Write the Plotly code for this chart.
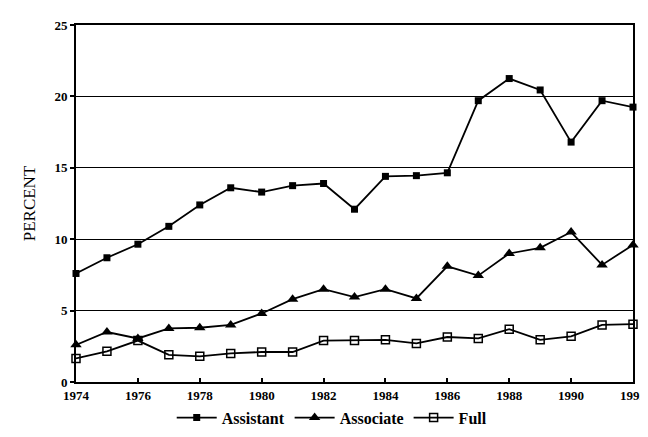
import plotly.graph_objects as go

years = list(range(1974, 1993))
assistant = [7.6, 8.7, 9.65, 10.9, 12.4, 13.6, 13.3, 13.75, 13.9, 12.1, 14.4, 14.45,
             14.65, 19.7, 21.25, 20.45, 16.8, 19.7, 19.25]
associate = [2.6, 3.5, 3.05, 3.75, 3.8, 4.0, 4.8, 5.8, 6.5, 5.95, 6.5, 5.85,
             8.1, 7.45, 9.0, 9.4, 10.5, 8.2, 9.6]
full = [1.65, 2.15, 2.9, 1.9, 1.8, 2.0, 2.1, 2.1, 2.9, 2.9, 2.95, 2.7,
        3.15, 3.05, 3.7, 2.95, 3.2, 4.0, 4.05]
xticks = list(range(1974, 1993, 2))
yticks = [0, 5, 10, 15, 20, 25]

FONT = "Liberation Serif"

fig = go.Figure()
series = [
    ("Assistant", assistant, dict(symbol="square", size=7, color="black")),
    ("Associate", associate, dict(symbol="triangle-up", size=10, color="black")),
    ("Full", full, dict(symbol="square-open", size=8, color="black", line=dict(width=1.5, color="black"))),
]
for name, vals, mk in series:
    fig.add_trace(go.Scatter(
        x=years, y=vals, name=name, mode="lines+markers",
        line=dict(color="black", width=1.8), marker=mk, cliponaxis=False,
    ))

fig.update_layout(
    width=648, height=437,
    margin=dict(l=68, r=13, t=10, b=54),
    paper_bgcolor="white", plot_bgcolor="white",
    font=dict(family=FONT, color="black"),
    showlegend=True,
    legend=dict(orientation="h", x=0.46, xanchor="center", y=-0.1, yanchor="middle",
                font=dict(family=FONT, size=16, color="black", weight="bold"),
                itemwidth=40, tracegroupgap=0),
)
fig.update_xaxes(
    range=[1974, 1992], tickvals=xticks, ticktext=[str(t) for t in xticks],
    showgrid=False, showline=True, linecolor="black", linewidth=2, mirror=True,
    ticks="inside", ticklen=4, tickcolor="black", tickwidth=1.5,
    tickfont=dict(family=FONT, size=13, color="black", weight="bold"),
    zeroline=False,
)
fig.update_yaxes(
    range=[0, 25], tickvals=yticks, ticktext=[str(t) for t in yticks],
    showgrid=True, gridcolor="black", gridwidth=1.3,
    showline=True, linecolor="black", linewidth=2, mirror=True,
    ticks="outside", ticklen=4, tickcolor="black", tickwidth=1.5,
    tickfont=dict(family=FONT, size=13, color="black", weight="bold"),
    zeroline=False,
    title=dict(text="PERCENT", font=dict(family=FONT, size=17, color="black"), standoff=14),
)
fig.write_html("out.html")
